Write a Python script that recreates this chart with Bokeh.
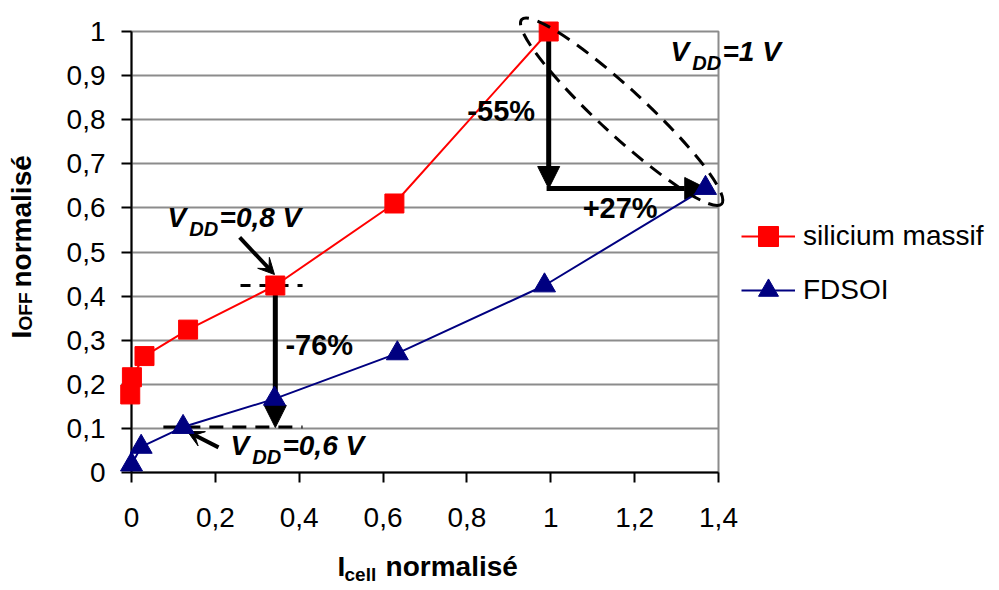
import math
from bokeh.plotting import figure
from bokeh.models import (Range1d, FixedTicker, Arrow, NormalHead, VeeHead,
                          Legend, LegendItem)
from bokeh.core.properties import value
from bokeh.embed import file_html
from bokeh.resources import INLINE

# ---------------- data ----------------
series_names = ["silicium massif", "FDSOI"]
si_x = [-0.003, 0.001, 0.031, 0.135, 0.343, 0.627, 0.995]
si_y = [0.177, 0.216, 0.264, 0.324, 0.424, 0.610, 1.000]
fd_x = [0.000, 0.023, 0.123, 0.341, 0.634, 0.985, 1.369]
fd_y = [0.018, 0.058, 0.103, 0.167, 0.270, 0.424, 0.645]

x_ticks = [0, 0.2, 0.4, 0.6, 0.8, 1.0, 1.2, 1.4]
x_tick_labels = ["0", "0,2", "0,4", "0,6", "0,8", "1", "1,2", "1,4"]
y_ticks = [0, 0.1, 0.2, 0.3, 0.4, 0.5, 0.6, 0.7, 0.8, 0.9, 1.0]
y_tick_labels = ["0", "0,1", "0,2", "0,3", "0,4", "0,5", "0,6", "0,7", "0,8", "0,9", "1"]

pct_labels = ["-55%", "+27%", "-76%"]
vdd_values = ["=1 V", "=0,8 V", "=0,6 V"]

FONT = "Liberation Sans"
RED = "#FF0000"
NAVY = "#000080"

p = figure(frame_width=587, frame_height=441,
           x_range=Range1d(0, 1.4), y_range=Range1d(0, 1),
           output_backend="svg", toolbar_location=None,
           min_border_left=131, min_border_right=279,
           min_border_top=31, min_border_bottom=115)
p.background_fill_color = "white"
p.border_fill_color = "white"
p.outline_line_color = "#8c8c8c"
p.outline_line_width = 2

# axes
p.xaxis.ticker = FixedTicker(ticks=x_ticks)
p.yaxis.ticker = FixedTicker(ticks=y_ticks)
p.xaxis.major_label_overrides = dict(zip(x_ticks, x_tick_labels))
p.yaxis.major_label_overrides = dict(zip(y_ticks, y_tick_labels))
for ax in (p.xaxis, p.yaxis):
    ax.axis_line_color = "black"
    ax.axis_line_width = 2
    ax.major_tick_line_color = "black"
    ax.major_tick_line_width = 2
    ax.major_tick_in = 0
    ax.major_tick_out = 10
    ax.minor_tick_line_color = None
    ax.major_label_text_font = FONT
    ax.major_label_text_font_size = "28px"
    ax.major_label_text_color = "black"
p.yaxis.major_label_standoff = 16
p.xaxis.major_label_standoff = 25

p.xgrid.grid_line_color = None
p.ygrid.ticker = FixedTicker(ticks=y_ticks)
p.ygrid.grid_line_color = "#8c8c8c"
p.ygrid.grid_line_width = 2

# series
r_si_line = p.line(si_x, si_y, line_color=RED, line_width=2)
r_si_pts = p.scatter(si_x, si_y, marker="square", size=19, fill_color=RED, line_color=RED)
r_fd_line = p.line(fd_x, fd_y, line_color=NAVY, line_width=2)
r_fd_pts = p.scatter(fd_x, fd_y, marker="triangle", size=22, fill_color=NAVY, line_color=NAVY)
for r in (r_si_line, r_si_pts, r_fd_line, r_fd_pts):
    r.level = "overlay"

# dashed reference lines at VDD=0.8 V and 0.6 V
p.line([0.26, 0.408], [0.424, 0.424], line_color="black", line_width=3, line_dash="10 9")
p.line([0.076, 0.408], [0.103, 0.103], line_color="black", line_width=3, line_dash="14 9")

# dashed ellipse around VDD = 1 V points
r_ell = p.ellipse(x=[1.169], y=[0.818], width=[272], height=[46], angle=[-0.745],
                  width_units="screen", height_units="screen",
                  fill_alpha=0, line_color="black", line_width=3, line_dash="14 9")
r_ell.level = "overlay"

# arrows
big = dict(line_color="black", line_width=5)
p.add_layout(Arrow(x_start=0.995, y_start=0.995, x_end=0.995, y_end=0.644,
                   end=NormalHead(size=22, fill_color="black", line_color="black"), **big))
p.add_layout(Arrow(x_start=0.990, y_start=0.644, x_end=1.372, y_end=0.644,
                   end=NormalHead(size=22, fill_color="black", line_color="black"), **big))
p.add_layout(Arrow(x_start=0.343, y_start=0.42, x_end=0.343, y_end=0.102,
                   end=NormalHead(size=22, fill_color="black", line_color="black"), **big))
p.add_layout(Arrow(x_start=0.258, y_start=0.533, x_end=0.341, y_end=0.449,
                   end=VeeHead(size=16, fill_color="black", line_color="black"),
                   line_color="black", line_width=4))
p.add_layout(Arrow(x_start=0.2075, y_start=0.057, x_end=0.1336, y_end=0.093,
                   end=VeeHead(size=16, fill_color="black", line_color="black"),
                   line_color="black", line_width=4))


def txt(x, y, s, size, style="bold", angle=0.0):
    r = p.text(x=[x], y=[y], text=[s], text_font=value(FONT),
               text_font_size=value(f"{size}px"), text_font_style=style,
               text_baseline="alphabetic", text_align="left", angle=angle,
               text_color="black")
    r.level = "overlay"


# percentages
txt(0.801, 0.819, pct_labels[0], 29)
txt(1.076, 0.599, pct_labels[1], 29)
txt(0.367, 0.289, pct_labels[2], 29)

# VDD labels
for (vx, vy), v in zip([(1.2855, 0.927), (0.086, 0.551), (0.236, 0.034)], vdd_values):
    txt(vx, vy + 0.0272, "V", 28, "bold italic")
    txt(vx + 0.052, vy + 0.0005, "DD", 20, "bold italic")
    txt(vx + 0.124, vy + 0.0272, v, 28, "bold italic")

# axis titles
txt(0.4913, -0.2131, "I", 28)
txt(0.508, -0.2308, "cell", 19)
txt(0.606, -0.2131, "normalisé", 28)

txt(-0.2623, 0.3039, "I", 28, angle=math.pi / 2)
txt(-0.2533, 0.322, "OFF", 19, angle=math.pi / 2)
txt(-0.2623, 0.4195, "normalisé", 28, angle=math.pi / 2)

legend = Legend(items=[LegendItem(label=series_names[0], renderers=[r_si_line, r_si_pts]),
                       LegendItem(label=series_names[1], renderers=[r_fd_line, r_fd_pts])],
                location=(23, 157), border_line_color=None, background_fill_alpha=0,
                padding=0, margin=0, glyph_width=54, glyph_height=50, spacing=4,
                label_standoff=8, label_text_font=FONT, label_text_font_size="28px",
                label_text_color="black")
p.add_layout(legend, "right")

open("out.html", "w").write(file_html(p, INLINE))
